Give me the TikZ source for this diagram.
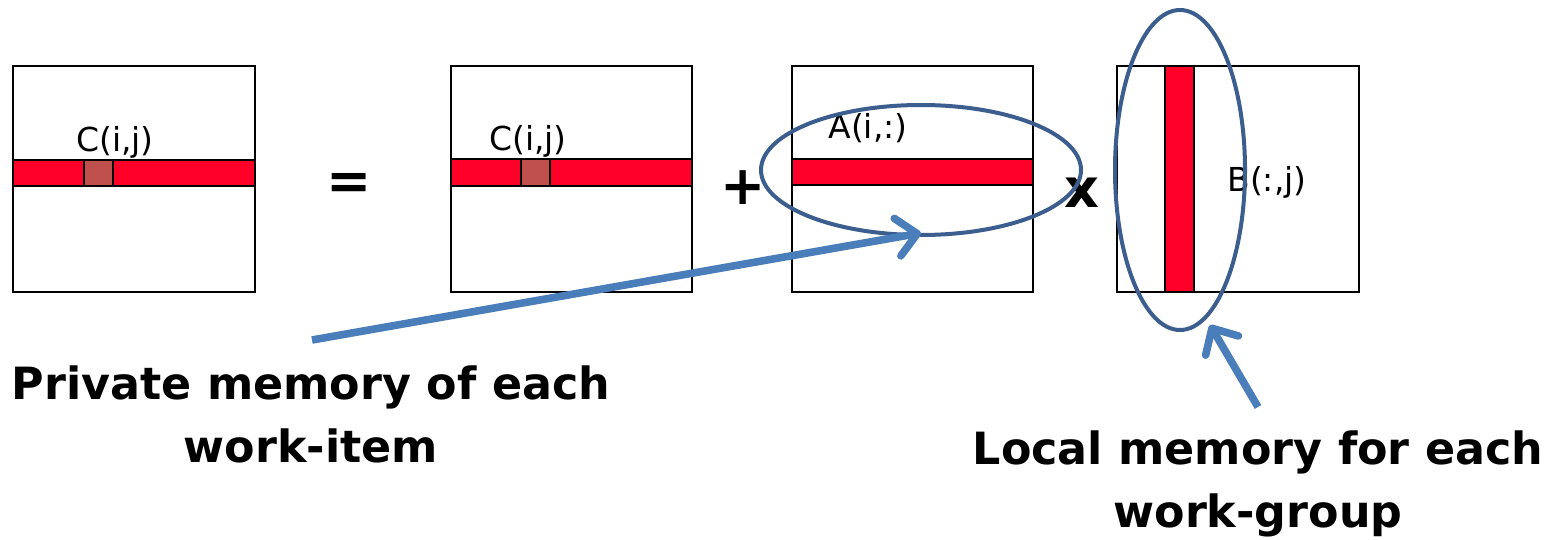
\documentclass[tikz,border=0pt]{standalone}
\usepackage{fontspec}
\setmainfont{DejaVu Sans}
\usetikzlibrary{shapes.geometric,arrows.meta}
\definecolor{redbar}{HTML}{FF0028}
\definecolor{cellc}{HTML}{C0504D}
\definecolor{ellc}{HTML}{3B5E8E}
\definecolor{arrc}{HTML}{4A7EBB}
\tikzset{
  mat/.style={draw=black,line width=1.1pt,fill=white},
  bar/.style={draw=black,line width=1.1pt,fill=redbar},
  cell/.style={draw=black,line width=1.1pt,fill=cellc},
  lbl/.style={font=\fontsize{16.5}{18}\selectfont,inner sep=0pt},
  op/.style={font=\fontsize{27}{30}\selectfont\bfseries,inner sep=0pt},
  big/.style={font=\fontsize{22.2}{31.5}\selectfont\bfseries,align=center,inner sep=0pt},
  ring/.style={draw=ellc,line width=2pt,ellipse,inner sep=0pt},
  ptr/.style={draw=arrc,line width=3.8pt,-{Straight Barb[length=10pt,width=19pt,round]}}
}
\begin{document}
\begin{tikzpicture}[x=0.5pt,y=-0.5pt]
\useasboundingbox (0,0) rectangle (1562,540);
% matrix 1
\draw[mat] (13,66) rectangle (255,292);
\draw[bar] (13,160) rectangle (255,186);
\draw[cell] (84,160) rectangle (113,186);
\node[lbl] (c1) at (115,142) {C(i,j)};
% =
\node[op] (eq) at (349,186) {=};
% matrix 2
\draw[mat] (451,66) rectangle (692,292);
\draw[bar] (451,159) rectangle (692,186);
\draw[cell] (521,159) rectangle (550,186);
\node[lbl] (c2) at (528,141) {C(i,j)};
% +
\node[op] (plus) at (743,188) {+};
% matrix 3
\draw[mat] (792,66) rectangle (1033,292);
\draw[bar] (792,159) rectangle (1033,185);
\node[lbl] (a) at (868,128) {A(i,:)};
% x
\node[op] (times) at (1082,193) {x};
% matrix 4
\draw[mat] (1117,66) rectangle (1359,292);
\draw[bar] (1165,66) rectangle (1194,292);
\node[lbl] (b) at (1267,182) {B(:,j)};
% ellipses
\node[ring,minimum width=160pt,minimum height=65pt] (e1) at (921,170) {};
\node[ring,minimum width=65pt,minimum height=160pt] (e2) at (1180,170) {};
% texts
\node[big] (priv) at (311,414) {Private memory of each\\work-item};
\node[big] (loc) at (1258,484) {Local memory for each\\work-group};
% arrows
\coordinate (p1) at (312,340);
\coordinate (p2) at (921,233);
\coordinate (q1) at (1258,407);
\coordinate (q2) at (1210,325);
\draw[ptr] (p1) -- (p2);
\draw[ptr] (q1) -- (q2);
\end{tikzpicture}
\end{document}
